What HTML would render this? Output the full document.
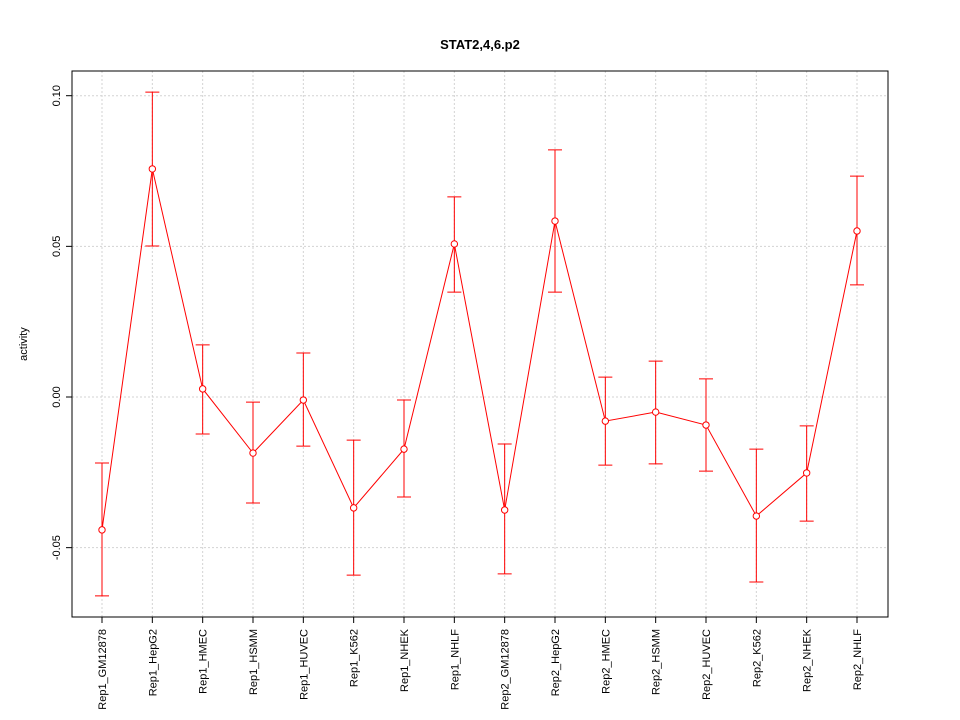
<!DOCTYPE html>
<html><head><meta charset="utf-8"><style>
body{margin:0;background:#fff}
svg{display:block;font-family:"Liberation Sans",sans-serif}
</style></head><body>
<svg id="chart" width="960" height="720"></svg>
<script>
const categories=["Rep1_GM12878","Rep1_HepG2","Rep1_HMEC","Rep1_HSMM","Rep1_HUVEC","Rep1_K562","Rep1_NHEK","Rep1_NHLF","Rep2_GM12878","Rep2_HepG2","Rep2_HMEC","Rep2_HSMM","Rep2_HUVEC","Rep2_K562","Rep2_NHEK","Rep2_NHLF"];
const values=[-0.0441,0.0757,0.0027,-0.0186,-0.001,-0.0368,-0.0173,0.0508,-0.0375,0.0584,-0.008,-0.005,-0.0093,-0.0395,-0.0252,0.0551];
const upper=[-0.0219,0.1012,0.0173,-0.0017,0.0146,-0.0143,-0.001,0.0664,-0.0156,0.082,0.0066,0.0119,0.006,-0.0173,-0.0096,0.0733];
const lower=[-0.066,0.0501,-0.0123,-0.0352,-0.0163,-0.0591,-0.0332,0.0348,-0.0587,0.0348,-0.0226,-0.0222,-0.0246,-0.0614,-0.0412,0.0372];
const yTicks=[-0.05,0,0.05,0.10];
const yTickLabels=["-0.05","0.00","0.05","0.10"];

const svg=document.getElementById('chart');
const NS='http://www.w3.org/2000/svg';
const L=72,R=888,T=71,B=617;
const yScale=v=>397-v*3013;
const xScale=i=>102+i*(857-102)/(categories.length-1);
function mk(tag,attrs,parent){const e=document.createElementNS(NS,tag);for(const k in attrs)e.setAttribute(k,attrs[k]);(parent||svg).appendChild(e);return e;}

const t=mk('text',{x:480,y:49,'text-anchor':'middle','font-size':13,'font-weight':'bold'});
t.textContent='STAT2,4,6.p2';



const yt=mk('text',{x:0,y:0,'text-anchor':'middle','font-size':11,transform:'translate(27,344) rotate(-90)'});
yt.textContent='activity';



categories.forEach((c,i)=>{const g=mk('line',{x1:xScale(i),x2:xScale(i),y1:T,y2:B,stroke:'#d3d3d3','stroke-dasharray':'2,2'});

});
yTicks.forEach(v=>{const g=mk('line',{x1:L,x2:R,y1:yScale(v),y2:yScale(v),stroke:'#d3d3d3','stroke-dasharray':'2,2'});

});

const box=mk('rect',{x:L,y:T,width:R-L,height:B-T,fill:'none',stroke:'#000'});



yTicks.forEach((v,i)=>{const y=yScale(v);
const tk=mk('line',{x1:L-6,x2:L,y1:y,y2:y,stroke:'#000'});


const lb=mk('text',{x:0,y:0,'text-anchor':'middle','font-size':11,transform:`translate(${L-12},${y}) rotate(-90)`});
lb.textContent=yTickLabels[i];

});

categories.forEach((c,i)=>{const x=xScale(i);
const tk=mk('line',{x1:x,x2:x,y1:B,y2:B+6,stroke:'#000'});


const lb=mk('text',{x:0,y:0,'text-anchor':'end','font-size':11,transform:`translate(${x+4},${B+12}) rotate(-90)`});
lb.textContent=c;

});

const pl=mk('polyline',{points:values.map((v,i)=>xScale(i)+','+yScale(v)).join(' '),fill:'none',stroke:'#ff0000'});



values.forEach((v,i)=>{const x=xScale(i);
const e=mk('path',{d:`M${x},${yScale(upper[i])}V${yScale(lower[i])}M${x-7},${yScale(upper[i])}H${x+7}M${x-7},${yScale(lower[i])}H${x+7}`,stroke:'#ff0000',fill:'none'});


const p=mk('circle',{cx:x,cy:yScale(v),r:3.2,fill:'#fff',stroke:'#ff0000'});

});
</script>
</body></html>
